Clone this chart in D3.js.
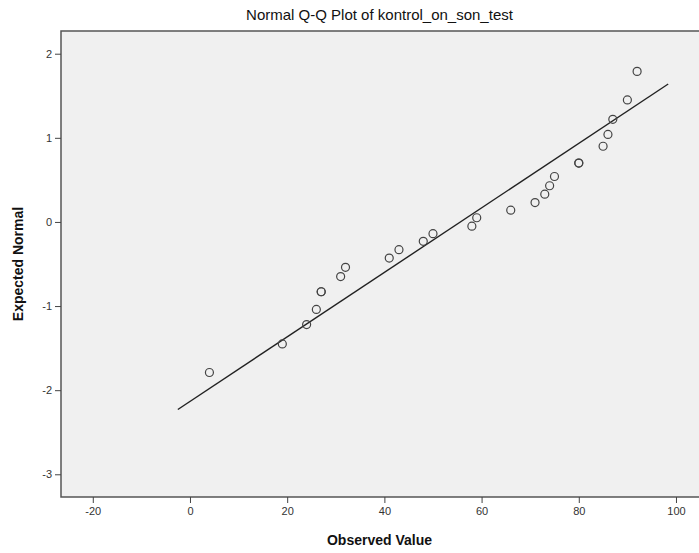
<!DOCTYPE html>
<html lang="en">
<head>
    <meta charset="UTF-8">
    <title>Normal Q-Q Plot</title>
    <style>
        body {
            margin: 0;
            background-color: #ffffff;
            font-family: 'Liberation Sans', Arial, sans-serif;
        }
        svg { display: block; }
        .tick text {
            font-family: 'Liberation Sans', Arial, sans-serif;
            font-size: 11px;
            fill: #333;
        }
        .tick line { stroke: #444; }
    </style>
    <script src="https://d3js.org/d3.v7.min.js"></script>
</head>
<body>
<svg id="chart" width="699" height="553"></svg>
<script>
    const observed = [4, 19, 24, 26, 27, 27, 31, 32, 41, 43, 48, 50, 58, 59, 66, 71, 73, 74, 75, 80, 80, 85, 86, 87, 90, 92];
    const expected = [-1.79, -1.45, -1.22, -1.04, -0.83, -0.83, -0.65, -0.54, -0.43, -0.33, -0.23, -0.14, -0.05, 0.05,
                      0.14, 0.23, 0.33, 0.43, 0.54, 0.70, 0.70, 0.90, 1.04, 1.22, 1.45, 1.79];

    // reference line end points
    const lineX = [-2.5, 98.4];
    const lineY = [-2.23, 1.64];

    const xTicks = [-20, 0, 20, 40, 60, 80, 100];
    const yTicks = [-3, -2, -1, 0, 1, 2];

    const svg = d3.select("#chart");
    const plotLeft = 61, plotRight = 698, plotTop = 31, plotBottom = 497;

    const x = d3.scaleLinear().domain([-26.54, 104.53]).range([plotLeft, plotRight]);
    const y = d3.scaleLinear().domain([-3.27, 2.27]).range([plotBottom, plotTop]);

    // plain hyphen minus like the original
    const fmt = d => String(d);

    // plot area
    svg.append("rect")
        .attr("x", plotLeft).attr("y", plotTop)
        .attr("width", 660).attr("height", plotBottom - plotTop)
        .attr("fill", "#f0f0f0")
        .attr("stroke", "#555")
        .attr("stroke-width", 1.5);

    // axes
    const xAxis = svg.append("g")
        .attr("transform", `translate(0,${plotBottom})`)
        .call(d3.axisBottom(x).tickValues(xTicks).tickFormat(fmt).tickSize(6).tickPadding(4));
    xAxis.select(".domain").remove();

    const yAxis = svg.append("g")
        .attr("transform", `translate(${plotLeft},0)`)
        .call(d3.axisLeft(y).tickValues(yTicks).tickFormat(fmt).tickSize(6).tickPadding(3));
    yAxis.select(".domain").remove();

    // fitted line
    svg.append("line")
        .attr("x1", x(lineX[0])).attr("y1", y(lineY[0]))
        .attr("x2", x(lineX[1])).attr("y2", y(lineY[1]))
        .attr("stroke", "#222")
        .attr("stroke-width", 1.4);

    // points
    svg.append("g")
        .selectAll("circle")
        .data(observed)
        .enter().append("circle")
        .attr("cx", d => x(d))
        .attr("cy", (d, i) => y(expected[i]))
        .attr("r", 4)
        .attr("fill", "none")
        .attr("stroke", "#444")
        .attr("stroke-width", 1.2);

    // titles
    svg.append("text")
        .attr("x", (plotLeft + plotRight) / 2).attr("y", 20)
        .attr("text-anchor", "middle")
        .attr("font-size", "15px")
        .attr("fill", "#111")
        .text("Normal Q-Q Plot of kontrol_on_son_test");

    svg.append("text")
        .attr("x", (plotLeft + plotRight) / 2).attr("y", 545)
        .attr("text-anchor", "middle")
        .attr("font-size", "14px")
        .attr("font-weight", "bold")
        .attr("fill", "#111")
        .text("Observed Value");

    svg.append("text")
        .attr("transform", `translate(23,${(plotTop + plotBottom) / 2}) rotate(-90)`)
        .attr("text-anchor", "middle")
        .attr("font-size", "14px")
        .attr("font-weight", "bold")
        .attr("fill", "#111")
        .text("Expected Normal");
</script>
</body>
</html>
